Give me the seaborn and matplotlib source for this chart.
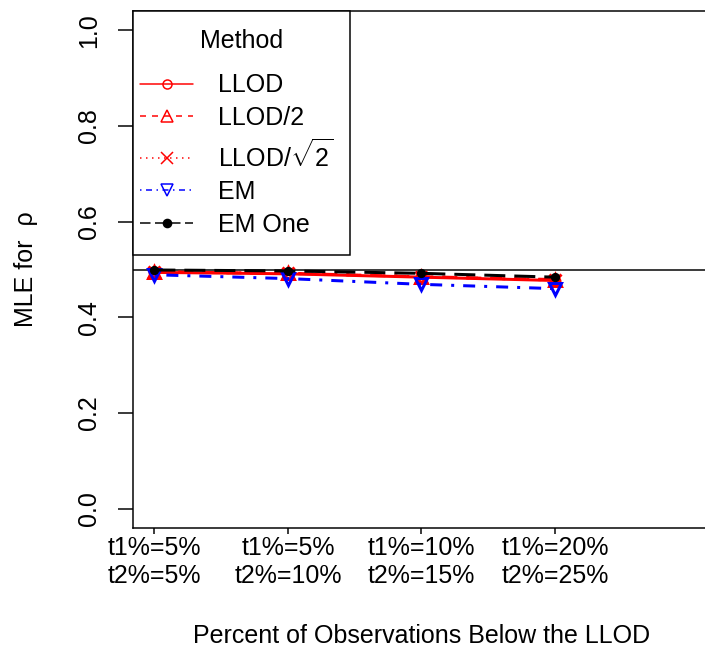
import numpy as np
import pandas as pd
import matplotlib
matplotlib.use("Agg")
import matplotlib.pyplot as plt
from matplotlib.lines import Line2D
from matplotlib.patches import Rectangle
import seaborn as sns

# ---- data -------------------------------------------------------------
scenarios = [1, 2, 3, 4]
scenario_labels = ["t1%=5%\nt2%=5%", "t1%=5%\nt2%=10%",
                   "t1%=10%\nt2%=15%", "t1%=20%\nt2%=25%"]
methods = ["LLOD", "LLOD/2", "LLOD/sqrt2", "EM", "EM One"]
legend_labels = ["LLOD", "LLOD/2", r"LLOD/$\sqrt{2}$", "EM", "EM One"]

mle_llod = [0.494, 0.491, 0.484, 0.477]
mle_llod_half = [0.495, 0.492, 0.485, 0.479]
mle_llod_sqrt2 = [0.495, 0.492, 0.485, 0.478]
mle_em = [0.489, 0.481, 0.469, 0.460]
mle_em_one = [0.499, 0.497, 0.492, 0.484]
true_rho = 0.5

y_ticks = [0.0, 0.2, 0.4, 0.6, 0.8, 1.0]
y_tick_labels = ["0.0", "0.2", "0.4", "0.6", "0.8", "1.0"]

df = pd.DataFrame({
    "scenario": scenarios * len(methods),
    "method": np.repeat(methods, len(scenarios)),
    "mle": np.concatenate([mle_llod, mle_llod_half, mle_llod_sqrt2,
                           mle_em, mle_em_one]),
})

# ---- styling ----------------------------------------------------------
sns.set_style("white")
plt.rcParams["font.family"] = ["Liberation Sans", "DejaVu Sans"]
plt.rcParams["mathtext.fontset"] = "custom"
plt.rcParams["mathtext.rm"] = "Liberation Sans"
plt.rcParams["mathtext.it"] = "Liberation Sans:italic"
plt.rcParams["mathtext.bf"] = "Liberation Sans:bold"
plt.rcParams["text.color"] = "black"
plt.rcParams["axes.labelcolor"] = "black"
plt.rcParams["xtick.color"] = "black"
plt.rcParams["ytick.color"] = "black"

RED, BLUE, BLACK = "#FF0000", "#0000FF", "#000000"
styles = {
    "LLOD":       dict(color=RED,   ls="-",               marker="o", ms=6.5, filled=False),
    "LLOD/2":     dict(color=RED,   ls=(0, (4, 4)),       marker="^", ms=8.6, filled=False),
    "LLOD/sqrt2": dict(color=RED,   ls=(0, (1, 3)),       marker="x", ms=8.0, filled=False),
    "EM":         dict(color=BLUE,  ls=(0, (1, 3, 4, 3)), marker="v", ms=8.6, filled=False),
    "EM One":     dict(color=BLACK, ls=(0, (7, 3)),       marker="o", ms=4.5, filled=True),
}
LW_PLOT = 2.16
LW_THIN = 1.08
FS = 18

fig = plt.figure(figsize=(7.05, 6.52), dpi=100)
ax = fig.add_axes([133 / 705, 124 / 652, 577 / 705, 517 / 652])

for m in methods:
    st = styles[m]
    sns.lineplot(data=df[df["method"] == m], x="scenario", y="mle", ax=ax,
                 color=st["color"], linestyle=st["ls"], linewidth=LW_PLOT,
                 marker=st["marker"], markersize=st["ms"],
                 markerfacecolor=st["color"] if st["filled"] else "none",
                 markeredgecolor=st["color"], markeredgewidth=LW_PLOT,
                 errorbar=None, legend=False, sort=False)

ax.axhline(true_rho, color=BLACK, linewidth=LW_THIN, zorder=1)

ax.set_xlim(0.84, 5.16)
ax.set_ylim(-0.04, 1.04)
ax.set_xticks(scenarios)
ax.set_xticklabels(scenario_labels, fontsize=FS, linespacing=1.2, color=BLACK)
ax.set_yticks(y_ticks)
ax.set_yticklabels(y_tick_labels, fontsize=FS, rotation=90, va="center",
                   color=BLACK)
ax.tick_params(axis="y", direction="out", length=10.8, width=LW_THIN, pad=12.5,
               left=True, colors=BLACK)
ax.tick_params(axis="x", direction="out", length=4.3, width=LW_THIN, pad=1.5,
               bottom=True, colors=BLACK)

for side in ["left", "bottom", "top", "right"]:
    ax.spines[side].set_visible(True)
    ax.spines[side].set_color(BLACK)
    ax.spines[side].set_linewidth(LW_THIN)

ax.set_xlabel("Percent of Observations Below the LLOD", fontsize=FS, color=BLACK)
ax.set_ylabel("MLE for  ρ", fontsize=FS, color=BLACK)
ax.xaxis.set_label_coords(0.5, (528 - 624) / 517)
ax.yaxis.set_label_coords((38 - 133) / 577, 0.5)

# ---- legend -----------------------------------------------------------
handles = []
for m in methods:
    st = styles[m]
    handles.append(Line2D([], [], color=st["color"], linestyle=st["ls"],
                          linewidth=LW_THIN, marker=st["marker"],
                          markersize=st["ms"] * (1.3 if m == "EM One" else 1.0),
                          markerfacecolor=st["color"] if st["filled"] else "none",
                          markeredgecolor=st["color"], markeredgewidth=LW_THIN))

# legend frame box (top-left corner of the plot region)
frame_w = 217 / 577
frame_bottom = (528 - 255) / 517
ax.add_patch(Rectangle((0, frame_bottom), frame_w, 1 - frame_bottom,
                       transform=ax.transAxes, facecolor="white",
                       edgecolor=BLACK, linewidth=LW_THIN, zorder=4.5,
                       clip_on=False))

content_x = (140 - 133) / 577
content_w = (343 - 140) / 577
content_top = (528 - 28.5) / 517
leg = ax.legend(handles, legend_labels, title="Method", fontsize=FS,
                title_fontsize=FS, loc="upper left",
                bbox_to_anchor=(content_x, 0, content_w, content_top),
                mode="expand", borderaxespad=0, borderpad=0,
                handlelength=2.12, handletextpad=1.0, labelspacing=0.35,
                frameon=False)
leg.set_zorder(5)
leg._legend_box.sep = 15.0

fig.savefig("out.png", dpi=100, facecolor="white")
